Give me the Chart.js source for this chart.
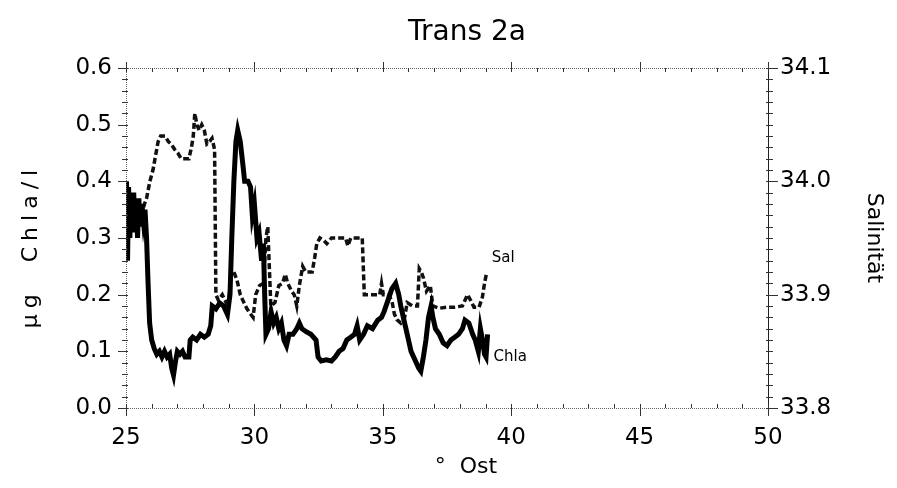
<!DOCTYPE html>
<html>
<head>
<meta charset="utf-8">
<title>Trans 2a</title>
<script src="https://cdn.jsdelivr.net/npm/chart.js@4.4.1/dist/chart.umd.min.js"></script>
<style>
  html, body { margin: 0; padding: 0; background: #fff; }
  #chart { display: block; }
</style>
</head>
<body>
<canvas id="chart" width="897" height="488"></canvas>
<script>
// Chlorophyll a along the transect (°E, µg/l)
const chlaLon = [
  25.02, 25.06, 25.10, 25.15, 25.20, 25.25, 25.30, 25.35, 25.40, 25.45,
  25.50, 25.55, 25.62, 25.68, 25.74, 25.80, 25.86, 25.92, 26.00, 26.10,
  26.20, 26.30, 26.40, 26.50, 26.60, 26.70, 26.78, 26.85, 26.92, 27.00,
  27.10, 27.20, 27.30, 27.45, 27.50, 27.60, 27.75, 27.90, 28.05, 28.20,
  28.30, 28.36, 28.50, 28.65, 28.80, 28.95, 29.05, 29.12, 29.20, 29.28,
  29.35, 29.45, 29.55, 29.62, 29.75, 29.85, 29.92, 30.00, 30.10, 30.18,
  30.28, 30.35, 30.40, 30.45, 30.55, 30.65, 30.75, 30.85, 30.95, 31.05,
  31.15, 31.25, 31.35, 31.50, 31.65, 31.75, 31.85, 32.00, 32.20, 32.40,
  32.48, 32.60, 32.80, 33.00, 33.15, 33.30, 33.45, 33.60, 33.75, 33.90,
  34.00, 34.10, 34.25, 34.40, 34.60, 34.80, 34.95, 35.05, 35.20, 35.35,
  35.50, 35.62, 35.70, 35.80, 35.90, 36.00, 36.10, 36.25, 36.40, 36.48,
  36.58, 36.68, 36.78, 36.88, 36.95, 37.05, 37.20, 37.35, 37.50, 37.65,
  37.80, 37.95, 38.10, 38.20, 38.35, 38.50, 38.60, 38.72, 38.80, 38.88,
  38.96, 39.02, 39.08
];
const chla = [
  0.40, 0.26, 0.39, 0.30, 0.37, 0.32, 0.38, 0.31, 0.36, 0.30,
  0.37, 0.32, 0.36, 0.33, 0.35, 0.30, 0.22, 0.15, 0.12, 0.105,
  0.095, 0.10, 0.09, 0.10, 0.09, 0.095, 0.07, 0.058, 0.08, 0.10,
  0.095, 0.10, 0.09, 0.09, 0.12, 0.125, 0.12, 0.13, 0.125, 0.13,
  0.145, 0.18, 0.175, 0.185, 0.18, 0.165, 0.20, 0.30, 0.40, 0.47,
  0.49, 0.47, 0.43, 0.40, 0.40, 0.39, 0.34, 0.36, 0.30, 0.31,
  0.26, 0.29, 0.20, 0.13, 0.14, 0.17, 0.15, 0.16, 0.14, 0.15,
  0.12, 0.11, 0.13, 0.13, 0.14, 0.15, 0.14, 0.135, 0.13, 0.12,
  0.09, 0.083, 0.085, 0.083, 0.09, 0.10, 0.105, 0.12, 0.125, 0.13,
  0.145, 0.12, 0.13, 0.145, 0.14, 0.155, 0.16, 0.17, 0.19, 0.21,
  0.22, 0.20, 0.18, 0.16, 0.14, 0.12, 0.10, 0.085, 0.07, 0.065,
  0.09, 0.12, 0.16, 0.18, 0.16, 0.14, 0.13, 0.115, 0.11, 0.12,
  0.125, 0.13, 0.14, 0.155, 0.15, 0.13, 0.12, 0.10, 0.14, 0.12,
  0.095, 0.09, 0.13
];

// Salinity along the same transect (°E, PSU)
const salLon = [
  25.02, 25.10, 25.18, 25.26, 25.34, 25.42, 25.50, 25.60, 25.72, 25.80,
  25.93, 26.05, 26.13, 26.25, 26.35, 26.52, 26.65, 26.75, 26.90, 27.02,
  27.15, 27.30, 27.45, 27.55, 27.62, 27.68, 27.76, 27.85, 27.95, 28.05,
  28.15, 28.25, 28.35, 28.45, 28.50, 28.60, 28.75, 28.90, 29.00, 29.10,
  29.20, 29.32, 29.45, 29.55, 29.70, 29.85, 29.95, 30.05, 30.20, 30.35,
  30.45, 30.52, 30.58, 30.64, 30.80, 30.95, 31.10, 31.20, 31.30, 31.45,
  31.55, 31.65, 31.75, 31.88, 32.00, 32.25, 32.35, 32.43, 32.55, 32.70,
  32.82, 33.00, 33.30, 33.55, 33.64, 33.75, 34.00, 34.20, 34.28, 34.50,
  34.88, 34.95, 35.02, 35.20, 35.35, 35.45, 35.55, 35.70, 35.85, 35.95,
  36.15, 36.35, 36.42, 36.50, 36.58, 36.70, 36.85, 36.95, 37.20, 37.50,
  37.80, 38.10, 38.30, 38.42, 38.55, 38.75, 38.88, 38.96, 39.05
];
const salinity = [
  33.975, 33.965, 33.985, 33.970, 33.980, 33.965, 33.980, 33.970, 33.980, 33.985,
  34.000, 34.010, 34.020, 34.035, 34.040, 34.040, 34.035, 34.033, 34.028, 34.025,
  34.020, 34.020, 34.020, 34.030, 34.040, 34.060, 34.050, 34.045, 34.050, 34.045,
  34.033, 34.035, 34.038, 34.028, 33.900, 33.895, 33.900, 33.893, 33.895, 33.918,
  33.920, 33.913, 33.900, 33.895, 33.888, 33.883, 33.880, 33.900, 33.908, 33.910,
  33.950, 33.960, 33.925, 33.890, 33.893, 33.908, 33.910, 33.918, 33.910, 33.903,
  33.900, 33.890, 33.908, 33.925, 33.920, 33.920, 33.933, 33.945, 33.950, 33.948,
  33.945, 33.950, 33.950, 33.950, 33.943, 33.950, 33.950, 33.950, 33.900, 33.900,
  33.900, 33.910, 33.900, 33.900, 33.895, 33.883, 33.878, 33.875, 33.880, 33.893,
  33.890, 33.890, 33.923, 33.920, 33.915, 33.903, 33.908, 33.890, 33.888, 33.889,
  33.889, 33.890, 33.900, 33.895, 33.889, 33.889, 33.898, 33.910, 33.920
];

const xTicks = [25, 30, 35, 40, 45, 50];
const chlaTicks = [0.0, 0.1, 0.2, 0.3, 0.4, 0.5, 0.6];
const salTicks = [33.8, 33.9, 34.0, 34.1];

const FONT = 'DejaVu Sans';

const toPoints = (xs, ys) => xs.map((x, i) => ({ x: x, y: ys[i] }));

// title, axis captions, frame, minor ticks and the line-end labels
const frameTicks = {
  id: 'frameTicks',
  afterDraw(chart) {
    const { ctx, chartArea: a, scales } = chart;
    const x = scales.x, y = scales.y, y2 = scales.y2;
    ctx.save();

    // dotted grey sides
    ctx.strokeStyle = '#666';
    ctx.lineWidth = 1;
    ctx.setLineDash([1, 1]);
    ctx.beginPath();
    ctx.moveTo(a.left + 0.5, a.top);
    ctx.lineTo(a.left + 0.5, a.bottom);
    ctx.moveTo(a.left, a.top + 0.5);
    ctx.lineTo(a.right, a.top + 0.5);
    ctx.moveTo(a.left, a.bottom + 0.5);
    ctx.lineTo(a.right, a.bottom + 0.5);
    ctx.stroke();
    ctx.setLineDash([]);

    // right axis solid
    ctx.strokeStyle = '#222';
    ctx.beginPath();
    ctx.moveTo(a.right + 0.5, a.top - 6);
    ctx.lineTo(a.right + 0.5, a.bottom + 8);
    ctx.stroke();

    ctx.strokeStyle = '#333';
    ctx.beginPath();
    // x axis: minor every degree, major every 5
    for (let v = 25; v <= 50; v += 1) {
      const px = Math.round(x.getPixelForValue(v)) + 0.5;
      const major = v % 5 === 0;
      ctx.moveTo(px, a.bottom + (major ? 8 : 0));
      ctx.lineTo(px, a.bottom - 4);
      ctx.moveTo(px, a.top - (major ? 6 : 0));
      ctx.lineTo(px, a.top + 4);
    }
    // left axis: minor every 0.02
    for (let i = 0; i <= 30; i++) {
      const py = Math.round(y.getPixelForValue(i * 0.02)) + 0.5;
      const major = i % 5 === 0;
      ctx.moveTo(a.left - (major ? 8 : 4), py);
      ctx.lineTo(a.left + 2, py);
    }
    // right axis: minor every 0.01
    for (let i = 0; i <= 30; i++) {
      const py = Math.round(y2.getPixelForValue(33.8 + i * 0.01)) + 0.5;
      const major = i % 10 === 0;
      ctx.moveTo(a.right - 2, py);
      ctx.lineTo(a.right + (major ? 10 : 5), py);
    }
    ctx.stroke();

    ctx.fillStyle = '#000';
    ctx.textAlign = 'center';
    ctx.textBaseline = 'middle';

    // title and bottom caption
    ctx.font = '28px "' + FONT + '"';
    ctx.fillText('Trans 2a', 467, 33);
    ctx.font = '22px "' + FONT + '"';
    ctx.fillText('°  Ost', 466, 467);

    // left caption, widely spaced
    ctx.save();
    ctx.translate(31, 249);
    ctx.rotate(-Math.PI / 2);
    ctx.letterSpacing = '6px';
    ctx.fillText('μg  Chla/l', 3, 0);
    ctx.restore();

    // series names next to the line ends
    ctx.font = '15px "' + FONT + '"';
    ctx.textAlign = 'left';
    const salEnd = chart.getDatasetMeta(1).data[salLon.length - 1];
    const chlEnd = chart.getDatasetMeta(0).data[chlaLon.length - 1];
    ctx.fillText('Sal', salEnd.x + 5, salEnd.y - 14);
    ctx.fillText('Chla', chlEnd.x + 6, chlEnd.y + 23);
    ctx.restore();
  }
};

new Chart(document.getElementById('chart'), {
  type: 'scatter',
  data: {
    datasets: [
      {
        label: 'Chla',
        data: toPoints(chlaLon, chla),
        yAxisID: 'y',
        showLine: true,
        borderColor: '#000',
        borderWidth: 5,
        pointRadius: 0,
        tension: 0
      },
      {
        label: 'Sal',
        data: toPoints(salLon, salinity),
        yAxisID: 'y2',
        showLine: true,
        borderColor: '#111',
        borderWidth: 3.5,
        borderDash: [6, 3],
        pointRadius: 0,
        tension: 0
      }
    ]
  },
  options: {
    responsive: false,
    animation: false,
    layout: { padding: { top: 68 } },
    plugins: {
      legend: { display: false },
      tooltip: { enabled: false },
      title: { display: false }
    },
    scales: {
      x: {
        type: 'linear',
        position: 'bottom',
        min: 25,
        max: 50,
        grid: { display: false, drawTicks: false },
        border: { display: false },
        afterBuildTicks: (s) => { s.ticks = xTicks.map(v => ({ value: v })); },
        afterFit: (s) => { s.height = 80; },
        ticks: {
          color: '#000',
          padding: 16,
          maxRotation: 0,
          font: { family: FONT, size: 23 },
          callback: (v) => String(v)
        }
      },
      y: {
        type: 'linear',
        position: 'left',
        min: 0,
        max: 0.6,
        grid: { display: false, drawTicks: false },
        border: { display: false },
        afterBuildTicks: (s) => { s.ticks = chlaTicks.map(v => ({ value: v })); },
        afterFit: (s) => { s.width = 126; },
        ticks: {
          color: '#000',
          padding: 14,
          font: { family: FONT, size: 23 },
          callback: (v) => v.toFixed(1)
        }
      },
      y2: {
        type: 'linear',
        position: 'right',
        min: 33.8,
        max: 34.1,
        grid: { display: false, drawTicks: false },
        border: { display: false },
        afterBuildTicks: (s) => { s.ticks = salTicks.map(v => ({ value: v })); },
        afterFit: (s) => { s.width = 129; },
        ticks: {
          color: '#000',
          padding: 12,
          font: { family: FONT, size: 23 },
          callback: (v) => v.toFixed(1)
        },
        title: {
          display: true,
          text: 'Salinität',
          color: '#000',
          font: { family: FONT, size: 22 },
          padding: { top: 10, bottom: 0 }
        }
      }
    }
  },
  plugins: [frameTicks]
});
</script>
</body>
</html>
